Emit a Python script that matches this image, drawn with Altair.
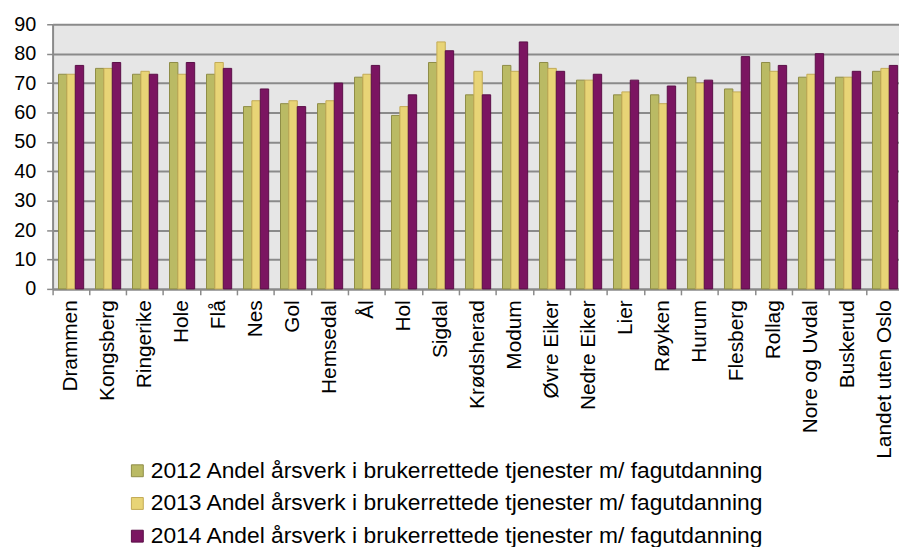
import altair as alt
import pandas as pd

categories = ["Drammen", "Kongsberg", "Ringerike", "Hole", "Flå", "Nes", "Gol",
              "Hemsedal", "Ål", "Hol", "Sigdal", "Krødsherad", "Modum", "Øvre Eiker",
              "Nedre Eiker", "Lier", "Røyken", "Hurum", "Flesberg", "Rollag",
              "Nore og Uvdal", "Buskerud", "Landet uten Oslo"]
v2012 = [73, 75, 73, 77, 73, 62, 63, 63, 72, 59, 77, 66, 76, 77, 71, 66, 66, 72, 68, 77, 72, 72, 74]
v2013 = [73, 75, 74, 73, 77, 64, 64, 64, 73, 62, 84, 74, 74, 75, 71, 67, 63, 70, 67, 74, 73, 72, 75]
v2014 = [76, 77, 73, 77, 75, 68, 62, 70, 76, 66, 81, 66, 84, 74, 73, 71, 69, 71, 79, 76, 80, 74, 76]
series = [
    "2012 Andel årsverk i brukerrettede tjenester m/ fagutdanning",
    "2013 Andel årsverk i brukerrettede tjenester m/ fagutdanning",
    "2014 Andel årsverk i brukerrettede tjenester m/ fagutdanning",
]
fills = ["#BABA64", "#E8D476", "#7B1561"]
strokes = ["#8E8C46", "#C2AA55", "#5A0E47"]

rows = []
for s, vals in zip(series, [v2012, v2013, v2014]):
    for c, v in zip(categories, vals):
        rows.append({"Kommune": c, "Serie": s, "Verdi": v})
df = pd.DataFrame(rows)

GRID = "#8A8A8A"

chart = alt.Chart(df).mark_bar(strokeWidth=1).encode(
    x=alt.X(
        "Kommune:N",
        sort=categories,
        title=None,
        scale=alt.Scale(paddingInner=0, paddingOuter=0, range=[0, 858.6]),
        axis=alt.Axis(
            bandPosition=0,
            labelAngle=-90,
            labelFontSize=21,
            labelColor="#000000",
            labelPadding=5,
            labelLimit=400,
            tickSize=6,
            tickColor=GRID,
            tickWidth=1.5,
            domainColor=GRID,
            domainWidth=2,
            grid=False,
        ),
    ),
    xOffset=alt.XOffset(
        "Serie:N", sort=series,
        scale=alt.Scale(paddingInner=0, paddingOuter=0.705),
    ),
    y=alt.Y(
        "Verdi:Q",
        title=None,
        scale=alt.Scale(domain=[0, 90], nice=False),
        axis=alt.Axis(
            values=list(range(0, 100, 10)),
            labelFontSize=20,
            labelColor="#000000",
            labelPadding=11,
            tickSize=6,
            tickColor=GRID,
            tickWidth=1.5,
            domainColor=GRID,
            domainWidth=2,
            grid=True,
            gridColor=GRID,
            gridWidth=2,
        ),
    ),
    color=alt.Color(
        "Serie:N",
        sort=series,
        scale=alt.Scale(domain=series, range=fills),
        legend=alt.Legend(
            title=None,
            orient="none",
            legendX=74,
            legendY=439,
            direction="vertical",
            symbolType="square",
            symbolSize=144,
            symbolStrokeWidth=1,
            labelFontSize=23,
            labelColor="#000000",
            labelLimit=1000,
            labelOffset=2,
            rowPadding=9,
            padding=0,
        ),
    ),
    stroke=alt.Stroke(
        "Serie:N",
        sort=series,
        scale=alt.Scale(domain=series, range=strokes),
    ),
).properties(
    width=854,
    height=267,
    autosize=alt.AutoSizeParams(type="none"),
    padding={"left": 45, "top": 14, "right": 0, "bottom": 258},
).configure(
    font="Liberation Sans",
).configure_view(
    fill="#E6E6E6",
    stroke=None,
)

chart.save("out.html", embed_options={"renderer": "svg", "actions": False})
